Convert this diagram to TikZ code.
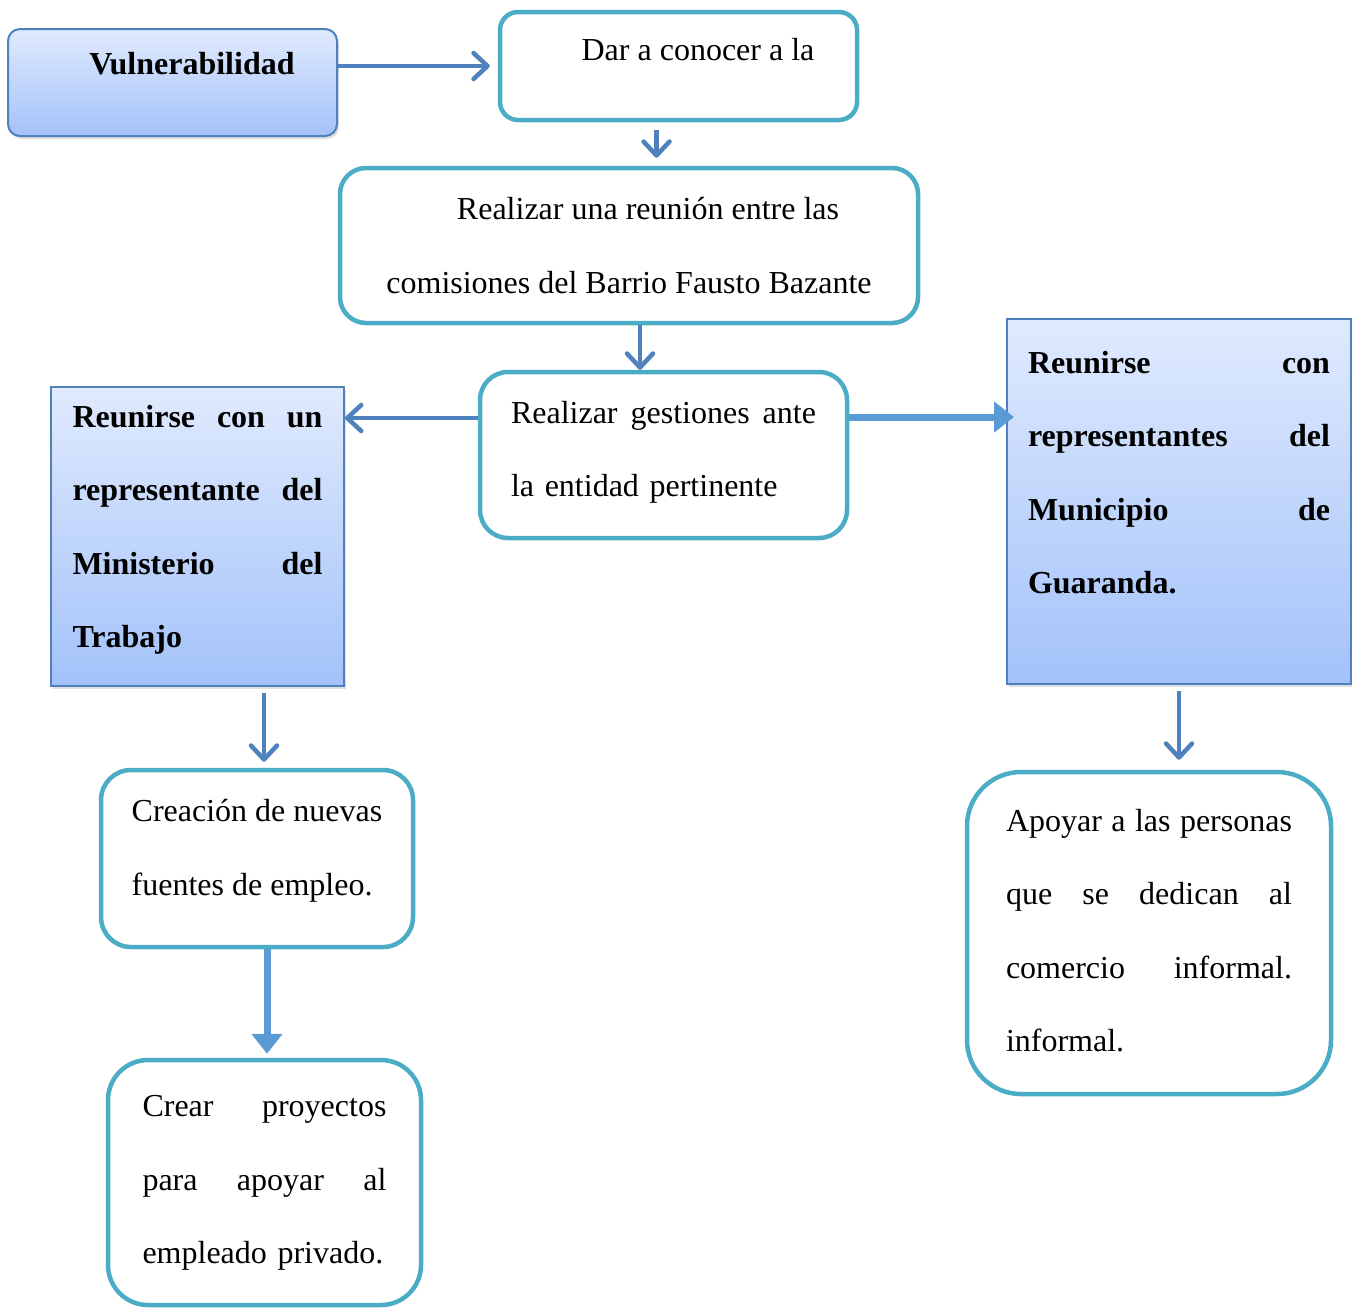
\documentclass[tikz,border=0pt]{standalone}
\usepackage{fontspec}
\setmainfont{Liberation Serif}
\usetikzlibrary{arrows.meta,shadows}
\definecolor{tealline}{HTML}{4BACC6}
\definecolor{blueline}{HTML}{4F81BD}
\definecolor{gradtop}{HTML}{E0EAFD}
\definecolor{gradbot}{HTML}{A3C2FA}
\definecolor{lightarrow}{HTML}{5B9BD5}
\setlength{\parindent}{0pt}
\setlength{\parskip}{0pt}

\tikzset{
    boxtext/.style={font=\fontsize{16}{36.75}\selectfont, inner sep=0pt},
    tealbox/.style={boxtext, draw=tealline, line width=2.25pt, fill=white, rounded corners=#1},
    bluebox/.style={boxtext, draw=blueline, line width=1pt, top color=gradtop, bottom color=gradbot,
        drop shadow={opacity=0.25, shadow xshift=1pt, shadow yshift=-1.5pt}},
    chev/.style={-{Straight Barb[length=7pt,width=13pt,round]}, draw=blueline, line width=2.25pt},
    bigarrow/.style={-{Triangle[length=10pt,width=15pt]}, draw=lightarrow, fill=lightarrow, line width=3.5pt}
}

\begin{document}
\begin{tikzpicture}[x=0.5pt,y=-0.5pt]

    \useasboundingbox (0,0) rectangle (1352,1307);

    \node [bluebox, rounded corners=6pt, minimum width=164.5pt, minimum height=53.5pt, text depth=19pt] (vul) at (172.5,82.5) {\bfseries\hspace*{19.5pt}Vulnerabilidad};
    \node [tealbox=9pt, minimum width=178.5pt, minimum height=54pt, text depth=17pt] (dar) at (678.5,66) {\hspace*{19.5pt}Dar a conocer a la};
    \node [tealbox=13pt, minimum width=289pt, minimum height=77.5pt, align=center, text depth=0pt] (reun) at (629,245.5)
        {\hspace*{19pt}Realizar una reunión entre las\\ comisiones del Barrio Fausto Bazante};
    \node [tealbox=14pt, minimum width=183.5pt, minimum height=83pt, text width=152.5pt, align=left, text depth=42.75pt] (gest) at (663.5,455)
        {Realizar\hfill gestiones\hfill ante\\ la entidad pertinente};
    \node [bluebox, minimum width=146.5pt, minimum height=149.5pt, text width=125pt, align=left, text depth=120.25pt] (mini) at (197.5,536.5)
        {\bfseries Reunirse\hfill con\hfill un\\ representante\hfill del\\ Ministerio\hfill del\\ Trabajo};
    \node [bluebox, minimum width=172pt, minimum height=182.5pt, text width=151pt, align=left, text depth=139.25pt] (muni) at (1179,501.5)
        {\bfseries Reunirse\hfill con\\ representantes\hfill del\\ Municipio\hfill de\\ Guaranda.};
    \node [tealbox=15pt, minimum width=156pt, minimum height=88.5pt, align=left, text depth=11pt] (crea) at (257,858.5)
        {Creación de nuevas\\ fuentes de empleo.};
    \node [tealbox=20pt, minimum width=156.5pt, minimum height=122.5pt, text width=122pt, align=left, text depth=76.5pt] (crear) at (264.5,1182.5)
        {Crear\hfill proyectos\\ para\hfill apoyar\hfill al\\ empleado privado.};
    \node [tealbox=27pt, minimum width=182pt, minimum height=161pt, text width=143pt, align=left, text depth=112.75pt] (apoy) at (1149,933)
        {Apoyar\hfill a\hfill las\hfill personas\\ que\hfill se\hfill dedican\hfill al\\ comercio\hfill informal.\\ informal.};

    \draw [chev] (vul.east |- dar.west) -- ([xshift=-4pt]dar.west);
    \draw [chev, shorten <=4pt, shorten >=4pt] ([xshift=-11pt]dar.south) -- ([xshift=-11pt]dar.south |- reun.north);
    \draw [chev] ([xshift=5.5pt]reun.south) -- ([xshift=5.5pt]reun.south |- gest.north);
    \draw [chev] ([yshift=18.5pt]gest.west) -- ([yshift=18.5pt]gest.west -| mini.east);
    \draw [bigarrow, shorten >=-4pt] ([yshift=19pt]gest.east) -- ([yshift=19pt]gest.east -| muni.west);
    \draw [chev, shorten <=3pt, shorten >=3pt] ([xshift=3.5pt]crea.north |- mini.south) -- ([xshift=3.5pt]crea.north);
    \draw [bigarrow, shorten >=2pt] ([xshift=5pt]crea.south) -- ([xshift=5pt]crea.south |- crear.north);
    \draw [chev, shorten <=3pt, shorten >=5pt] (muni.south) -- (muni.south |- apoy.north);

\end{tikzpicture}
\end{document}
